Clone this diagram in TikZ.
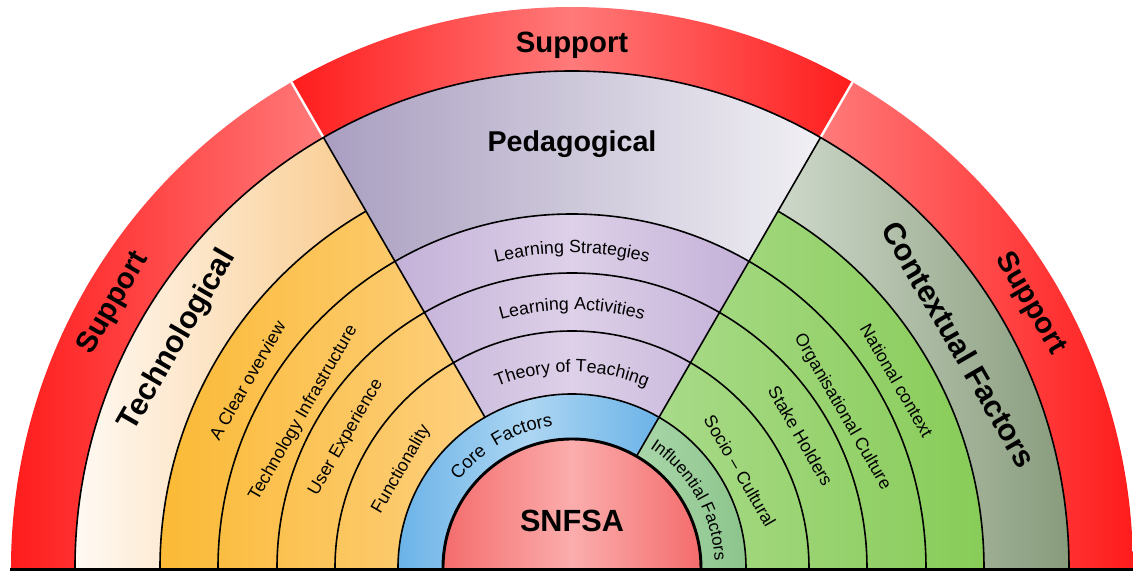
\documentclass[tikz,border=0pt]{standalone}
\usepackage{fontspec}
\setmainfont{Liberation Sans}
\usetikzlibrary{decorations.text}
\definecolor{supR}{HTML}{FF1C1C}
\definecolor{supP}{HTML}{FF7A7A}
\definecolor{techL}{HTML}{FFF9F3}
\definecolor{techR}{HTML}{F9CB8E}
\definecolor{orL}{HTML}{FBBA36}
\definecolor{orR}{HTML}{FDCF7E}
\definecolor{pedL}{HTML}{A99EC0}
\definecolor{pedR}{HTML}{F1F0F4}
\definecolor{lavE}{HTML}{C4B1D8}
\definecolor{lavM}{HTML}{DDD0E8}
\definecolor{ctxL}{HTML}{CED8CA}
\definecolor{ctxR}{HTML}{889C7C}
\definecolor{grL}{HTML}{A8DA88}
\definecolor{grR}{HTML}{88CC58}
\definecolor{blE}{HTML}{6BB3E8}
\definecolor{blM}{HTML}{ADD6F2}
\definecolor{inL}{HTML}{A9D6A9}
\definecolor{inR}{HTML}{8CC48C}
\definecolor{snE}{HTML}{F46C6C}
\definecolor{snM}{HTML}{FBADAD}
\newcommand{\annsec}[4]{(#1:#3) arc[start angle=#1, end angle=#2, radius=#3] -- (#2:#4) arc[start angle=#2, end angle=#1, radius=#4] -- cycle}
\begin{document}
\begin{tikzpicture}[x=0.75pt,y=0.75pt,
  ln/.style={draw=black,line width=1.2pt},
  tbold/.style={font=\fontsize{22}{26}\selectfont\bfseries,inner sep=0pt},
  ttitle/.style={font=\fontsize{23}{28}\selectfont\bfseries,inner sep=0pt},
  tlab/.style={font=\fontsize{13.3}{16}\selectfont,inner sep=0pt}]
\useasboundingbox (-572,-3) rectangle (561,568);
% support ring
\shade[left color=supR,right color=supP] \annsec{120}{180}{497}{561};
\shade[left color=supR,right color=supR,middle color=supP] \annsec{60}{120}{497}{561};
\shade[left color=supP,right color=supR] \annsec{0}{60}{497}{561};
\draw[white,line width=1.8pt] (60:497) -- (60:561);
\draw[white,line width=1.8pt] (120:497) -- (120:561);
% technological side
\shade[left color=techL,right color=techR] \annsec{120}{180}{412}{497};
\shade[left color=orL,right color=orR] \annsec{120}{180}{174}{412};
% pedagogical wedge
\shade[left color=pedL,right color=pedR] \annsec{60}{120}{354}{497};
\shade[left color=lavE,right color=lavE,middle color=lavM] \annsec{60}{120}{174}{354};
% contextual side
\shade[left color=ctxL,right color=ctxR] \annsec{0}{60}{412}{497};
\shade[left color=grL,right color=grR] \annsec{0}{60}{174}{412};
% core / influential rings
\shade[left color=blE,right color=blE,middle color=blM] \annsec{60}{180}{129}{174};
\shade[left color=inL,right color=inR] \annsec{0}{60}{129}{174};
% SNFSA
\shade[left color=snE,right color=snE,middle color=snM] (0:129) arc[start angle=0,end angle=180,radius=129] -- cycle;
% lines
\draw[ln] (0:497) arc[start angle=0,end angle=180,radius=497];
\draw[ln] (0:412) arc[start angle=0,end angle=60,radius=412];
\draw[ln] (120:412) arc[start angle=120,end angle=180,radius=412];
\foreach \r in {354,295,237,174}
  \draw[ln] (0:\r) arc[start angle=0,end angle=180,radius=\r];
\draw[ln] (60:129) -- (60:497);
\draw[ln] (120:174) -- (120:497);
\draw[draw=black,line width=2.2pt] (0:129) arc[start angle=0,end angle=180,radius=129];
\draw[draw=black,line width=2.8pt] (-562,-1.5) -- (561,-1.5);
% titles
\node[tbold,anchor=base] (supT) at (90:515) {Support};
\node[tbold,rotate=60] (supL) at (150:529) {Support};
\node[tbold,rotate=-60] (supRt) at (30:529) {Support};
\node[tbold,font=\fontsize{21.5}{26}\selectfont\bfseries,anchor=base] (ped) at (90:416) {Pedagogical};
\node[ttitle,rotate=60] (tech) at (150:455) {Technological};
\node[ttitle,rotate=-60] (ctx) at (30:447) {Contextual Factors};
\node[tbold,font=\fontsize{23}{26}\selectfont\bfseries,anchor=base] (snfsa) at (0,36) {SNFSA};
% left labels
\node[tlab,rotate=60] (l1) at (150:375) {A Clear overview};
\node[tlab,rotate=60] (l2) at (150:310) {Technology Infrastructure};
\node[tlab,rotate=60] (l3) at (150:261) {User Experience};
\node[tlab,rotate=60] (l4) at (150:197) {Functionality};
% right labels
\node[tlab,rotate=-60] (r1) at (30:375) {National context};
\node[tlab,rotate=-60] (r2) at (30:312) {Organisational Culture};
\node[tlab,rotate=-60] (r3) at (30:264) {Stake Holders};
\node[tlab,rotate=-60] (r4) at (30:194) {Socio -- Cultural};
% curved labels
\path[decorate,decoration={text along path,text align=center,
  text={|\fontsize{13.3}{16}\selectfont|Learning Strategies}}]
  (120:315) arc[start angle=120,end angle=60,radius=315];
\path[decorate,decoration={text along path,text align=center,
  text={|\fontsize{13.3}{16}\selectfont|Learning Activities}}]
  (120:258) arc[start angle=120,end angle=60,radius=258];
\path[decorate,decoration={text along path,text align=center,
  text={|\fontsize{13.3}{16}\selectfont|Theory of Teaching}}]
  (125:196) arc[start angle=125,end angle=55,radius=196];
\path[decorate,decoration={text along path,text align=center,
  text={|\fontsize{13.8}{16}\selectfont|Core{\ \ }Factors}}]
  (165:143) arc[start angle=165,end angle=75,radius=143];
\path[decorate,decoration={text along path,text align=center,
  text={|\fontsize{12.8}{16}\selectfont|Influential{\ }Factors}}]
  (75:143) arc[start angle=75,end angle=-15,radius=143];
\end{tikzpicture}
\end{document}
